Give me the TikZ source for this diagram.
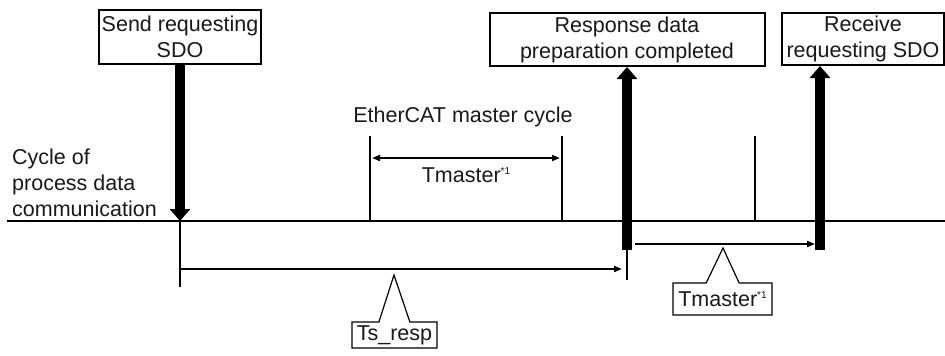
\documentclass[tikz,border=0pt]{standalone}
\usepackage{fontspec}
\setmainfont{Liberation Sans}
\usetikzlibrary{arrows.meta,positioning,shapes.callouts,calc}
\newcommand\noteone{\raisebox{8pt}{\fontsize{10}{10}\selectfont *1}}
\begin{document}
\begin{tikzpicture}[x=1pt, y=-1pt, node distance=4pt, font=\fontsize{21.5}{26}\selectfont, text=black!90,
  >={Triangle[length=8pt,width=6pt]},
  evbox/.style={rectangle, draw=black, line width=2pt, align=center, inner sep=0pt},
  tag/.style={rectangle callout, draw=black, line width=1.2pt, inner sep=0pt, fill=white},
  fat/.style={line width=10pt, -{Triangle[length=12pt,width=20pt]}},
  tline/.style={line width=1.8pt}]
	 \useasboundingbox (0,0) rectangle (945,356);
	 % event boxes
	 \node[evbox, minimum width=162pt, minimum height=54pt] (send) at (180,37) {Send requesting\\SDO};
	 \node[evbox, minimum width=275pt, minimum height=53pt] (resp) at (627,39.5) {Response data\\preparation completed};
	 \node[evbox, minimum width=162pt, minimum height=52pt] (recv) at (863,39) {Receive\\requesting SDO};
	 \node[align=left, anchor=west, inner sep=0pt] (cyc) at (12,183) {Cycle of\\process data\\communication};
	 % time line and master cycle ticks
	 \coordinate (t0) at (7,221);
	 \coordinate (t1) at (945,221);
	 \draw[line width=2pt] (t0) -- (t1);
	 \foreach \x in {370,562,755}
	  \draw[tline] (\x,136) -- (\x,221);
	 \node (ecat) at (463,117) {EtherCAT master cycle};
	 \coordinate (ma) at (372,158);
	 \coordinate (mb) at (560,158);
	 \draw[tline,<->] (ma) -- (mb);
	 \node[below=6pt of $(ma)!0.5!(mb)$] (tm) {Tmaster\noteone};
	 % SDO events
	 \coordinate (rbot) at (627,250);
	 \coordinate (cbot) at (820,250);
	 \draw[fat] (send) -- (send |- t0);
	 \draw[tline] (send |- t0) -- ++(0,66);
	 \draw[fat] (rbot) -- (resp);
	 \draw[tline] (rbot) -- ++(0,30);
	 \draw[fat] (cbot) -- (cbot |- recv.south);
	 % durations
	 \coordinate (tsa) at (181,269);
	 \coordinate (tsb) at (622,269);
	 \coordinate (tma) at (635,244);
	 \coordinate (tmb) at (815,244);
	 \draw[tline,->] (tsa) -- (tsb);
	 \draw[tline,->] (tma) -- (tmb);
	 \coordinate (tsp) at (394,275);
	 \coordinate (tmp) at (723,248);
	 \node[tag, minimum width=85pt, minimum height=26pt, callout absolute pointer=(tsp), callout pointer width=31pt] (tsresp) at (394.5,335) {Ts\_resp};
	 \node[tag, minimum width=99pt, minimum height=32pt, callout absolute pointer=(tmp), callout pointer width=33pt] (tmresp) at (722.5,299) {Tmaster\noteone};
	\end{tikzpicture}
\end{document}
